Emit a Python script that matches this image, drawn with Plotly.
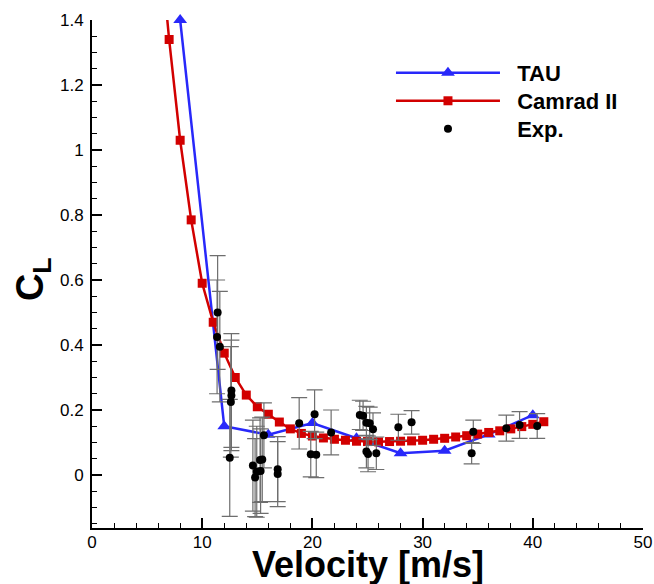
import plotly.graph_objects as go

# ---- data ----
tau_x = [8, 12, 16, 20, 24, 28, 32, 36, 40]
tau_y = [1.40, 0.150, 0.124, 0.160, 0.113, 0.067, 0.075, 0.125, 0.184]

camrad_x = [6, 7, 8, 9, 10, 11, 12, 13, 14, 15, 16, 17, 18, 19, 20, 21, 22, 23,
            24, 25, 26, 27, 28, 29, 30, 31, 32, 33, 34, 35, 36, 37, 38, 39, 40, 41]
camrad_y = [1.70, 1.34, 1.03, 0.785, 0.59, 0.47, 0.375, 0.30, 0.246, 0.210, 0.187,
            0.163, 0.142, 0.128, 0.120, 0.114, 0.110, 0.107, 0.104, 0.103, 0.102,
            0.103, 0.104, 0.105, 0.107, 0.110, 0.113, 0.117, 0.121, 0.126, 0.131,
            0.136, 0.142, 0.149, 0.156, 0.164]

exp_x = [11.4, 11.35, 11.6, 12.65, 12.65, 12.6, 12.5,
         15.6, 14.6, 15.25, 15.45, 14.95, 15.3, 14.8, 16.85, 16.85,
         18.8, 20.2, 19.85, 20.35, 21.7,
         24.3, 24.6, 24.9, 25.2, 25.5, 24.9, 25.05, 25.8,
         27.8, 29.0, 34.6, 34.45, 37.6, 38.8, 40.4]
exp_y = [0.50, 0.425, 0.395, 0.26, 0.245, 0.225, 0.053,
         0.122, 0.029, 0.046, 0.048, 0.010, 0.012, -0.008, 0.018, 0.003,
         0.159, 0.187, 0.064, 0.062, 0.131,
         0.185, 0.182, 0.161, 0.159, 0.141, 0.072, 0.065, 0.067,
         0.147, 0.162, 0.133, 0.067, 0.144, 0.154, 0.151]
exp_err = [0.175, 0.175, 0.17, 0.175, 0.17, 0.17, 0.18,
           0.10, 0.14, 0.13, 0.13, 0.14, 0.13, 0.12, 0.10, 0.10,
           0.079, 0.075, 0.07, 0.07, 0.069,
           0.045, 0.045, 0.05, 0.05, 0.05, 0.05, 0.055, 0.05,
           0.04, 0.036, 0.036, 0.033, 0.04, 0.041, 0.038]

series_names = ["TAU", "Camrad II", "Exp."]
x_title = "Velocity [m/s]"
y_title = "C<sub>L</sub>"

BLUE = "rgb(40,40,250)"
RED = "rgb(210,0,0)"
FONT = "Liberation Sans, Arial, sans-serif"
NB = "\u00a0\u00a0"

fig = go.Figure()

fig.add_trace(go.Scatter(
    x=tau_x, y=tau_y, name=NB + series_names[0], mode="lines+markers",
    line=dict(color=BLUE, width=2.5),
    marker=dict(symbol="triangle-up", size=12, color=BLUE),
    cliponaxis=False, legend="legend",
))
fig.add_trace(go.Scatter(
    x=camrad_x, y=camrad_y, name=NB + series_names[1], mode="lines+markers",
    line=dict(color=RED, width=2.5),
    marker=dict(symbol="square", size=9, color=RED),
    cliponaxis=True, legend="legend2",
))
fig.add_trace(go.Scatter(
    x=exp_x, y=exp_y, name=NB + series_names[2], mode="markers",
    marker=dict(symbol="circle", size=8, color="black"),
    error_y=dict(type="data", array=exp_err, visible=True,
                 color="rgb(110,110,110)", thickness=1.2, width=8),
    legend="legend3",
))


def leg(y):
    return dict(
        x=0.5426, y=y, xanchor="left", yanchor="middle",
        bgcolor="rgba(0,0,0,0)", borderwidth=0,
        font=dict(family=FONT, size=22, color="black", weight="bold"),
        itemwidth=104,
    )


fig.update_layout(
    width=654, height=584,
    margin=dict(l=92, r=11, t=20, b=56, autoexpand=False),
    paper_bgcolor="white", plot_bgcolor="white",
    font=dict(family=FONT, size=17, color="black"),
    showlegend=True,
    legend=leg(0.8957),
    legend2=leg(0.8406),
    legend3=leg(0.7854),
    xaxis=dict(
        range=[0, 50], tick0=0, dtick=10, automargin=False,
        showline=True, linecolor="black", linewidth=2,
        ticks="inside", ticklen=10, tickwidth=2, tickcolor="black",
        minor=dict(dtick=2, ticks="inside", ticklen=5, tickwidth=1, tickcolor="black"),
        showgrid=False, zeroline=False, mirror=False,
        tickfont=dict(family=FONT, size=17, color="black"),
        ticklabelstandoff=-2,
    ),
    yaxis=dict(
        range=[-0.163, 1.4], tick0=0, dtick=0.2, automargin=False,
        showline=True, linecolor="black", linewidth=2,
        ticks="inside", ticklen=10, tickwidth=2, tickcolor="black",
        minor=dict(dtick=0.05, ticks="inside", ticklen=5, tickwidth=1, tickcolor="black"),
        showgrid=False, zeroline=False, mirror=False,
        tickfont=dict(family=FONT, size=17, color="black"),
        ticklabelstandoff=3,
    ),
    annotations=[
        dict(text=x_title, xref="paper", yref="paper", x=0.5, y=-0.072,
             xanchor="center", yanchor="middle", showarrow=False,
             font=dict(family=FONT, size=36, color="black", weight="bold")),
        dict(text=y_title, xref="paper", yref="paper", x=-0.107, y=0.49,
             xanchor="center", yanchor="middle", showarrow=False, textangle=-90,
             font=dict(family=FONT, size=38, color="black", weight="bold")),
    ],
)

fig.write_html(
    "out.html",
    config={"displayModeBar": False},
    post_script="document.body.style.margin='0px';document.body.style.overflow='hidden';",
)
